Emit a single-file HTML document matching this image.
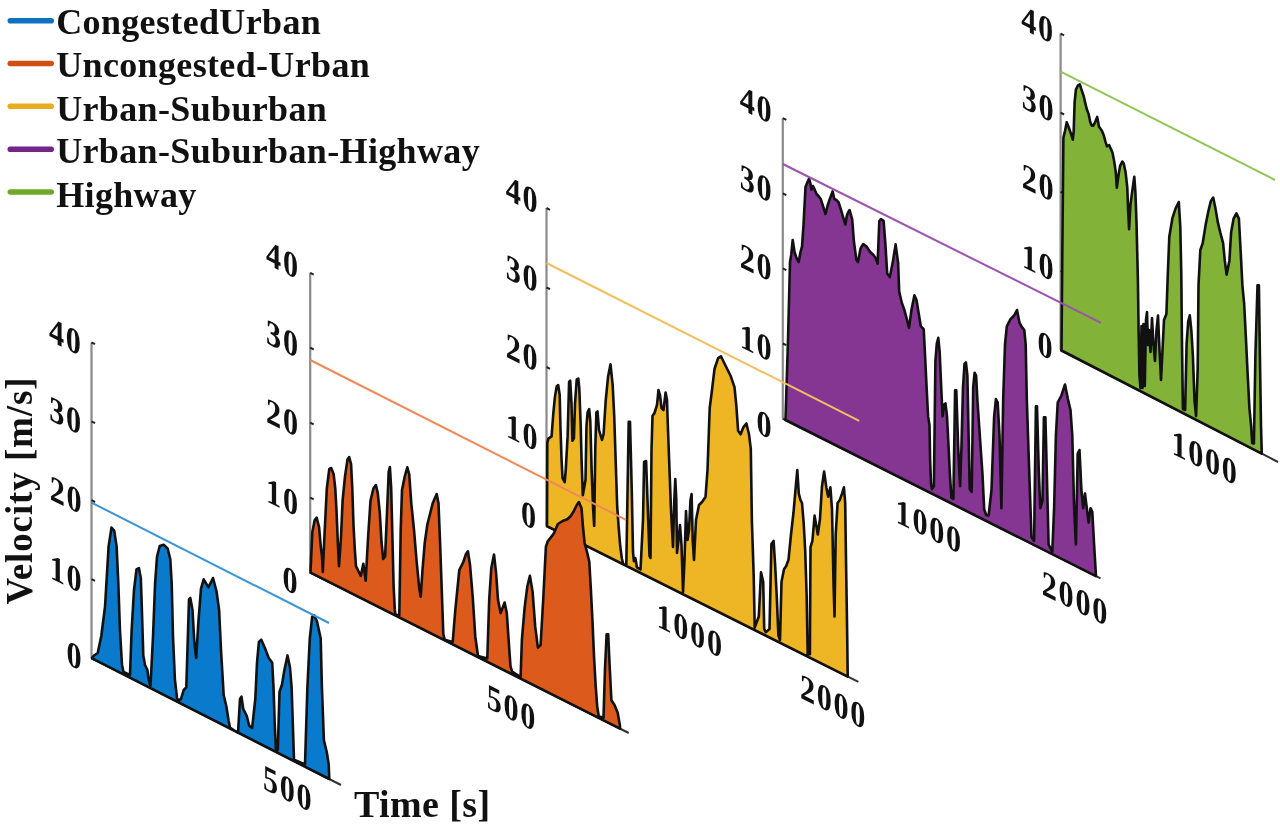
<!DOCTYPE html>
<html><head><meta charset="utf-8"><style>
html,body{margin:0;padding:0;background:#fff;width:1280px;height:825px;overflow:hidden}
svg{display:block;filter:blur(0.45px)}
text{font-family:"Liberation Serif",serif;fill:#111}
.tk{font-weight:bold}
</style></head><body>
<svg width="1280" height="825" viewBox="0 0 1280 825">
<g id="P5"><line x1="1060.6" y1="33.6" x2="1060.6" y2="350" stroke="#8a8a8a" stroke-width="2.2"/>
<line x1="1060.6" y1="350.0" x2="1064.1" y2="351.8" stroke="#222" stroke-width="2"/>
<line x1="1060.6" y1="270.9" x2="1064.1" y2="272.6" stroke="#222" stroke-width="2"/>
<line x1="1060.6" y1="191.8" x2="1064.1" y2="193.6" stroke="#222" stroke-width="2"/>
<line x1="1060.6" y1="112.7" x2="1064.1" y2="114.5" stroke="#222" stroke-width="2"/>
<line x1="1060.6" y1="33.6" x2="1064.1" y2="35.4" stroke="#222" stroke-width="2"/>
<line x1="1060.6" y1="350" x2="1278" y2="462" stroke="#333" stroke-width="2"/>
<polygon points="1061.5,350.0 1062.4,244.4 1063.4,137.6 1065.0,131.0 1066.7,122.3 1068.5,126.7 1070.0,131.0 1071.5,135.4 1072.8,139.7 1073.7,131.0 1074.6,102.7 1075.9,89.6 1078.0,85.3 1079.8,84.3 1081.5,89.6 1083.7,96.2 1085.2,102.7 1086.8,109.2 1088.5,113.6 1090.3,122.3 1091.8,125.6 1093.3,125.6 1095.1,122.3 1097.2,116.9 1099.0,126.7 1100.5,128.8 1102.0,131.0 1103.8,135.4 1105.5,141.9 1107.0,146.3 1109.2,145.2 1110.7,148.5 1112.5,152.8 1114.2,161.5 1115.8,172.4 1116.8,187.7 1118.6,174.6 1120.1,165.9 1122.3,161.5 1123.8,163.7 1125.6,172.4 1127.3,187.7 1128.2,211.7 1129.1,229.1 1130.4,205.1 1132.1,192.1 1134.3,176.8 1135.4,192.1 1136.5,222.6 1137.9,280.0 1138.6,330.0 1139.4,375.0 1140.5,388.0 1141.5,326.0 1142.5,388.0 1143.5,324.0 1144.8,386.0 1146.0,320.0 1147.0,312.0 1148.0,345.0 1149.0,330.0 1150.5,352.0 1152.0,318.0 1153.5,345.0 1155.0,361.0 1156.5,330.0 1158.0,315.6 1159.5,350.0 1161.0,380.0 1162.5,350.0 1164.0,320.0 1166.4,314.0 1167.8,274.4 1169.3,236.6 1172.5,217.8 1175.6,208.3 1178.8,202.0 1180.3,227.2 1181.3,274.4 1181.9,337.3 1182.9,409.0 1185.1,410.0 1186.6,343.6 1188.2,321.6 1189.8,315.3 1191.4,331.0 1192.9,356.2 1194.5,400.3 1196.1,416.0 1197.7,368.8 1198.5,285.3 1200.3,250.2 1202.7,243.2 1205.5,225.6 1208.3,211.6 1210.8,201.1 1213.2,197.5 1215.4,208.1 1217.8,222.1 1220.3,232.6 1223.1,243.2 1224.8,260.7 1226.6,274.7 1229.4,260.7 1231.1,232.6 1233.6,218.6 1236.4,213.3 1238.9,218.6 1240.6,250.2 1242.4,285.3 1244.1,302.8 1245.9,337.9 1247.6,373.0 1249.4,408.1 1251.1,425.6 1252.2,443.2 1253.9,443.5 1255.4,355.4 1257.5,285.3 1258.9,285.3 1259.9,355.4 1261.0,425.6 1261.7,450.2 1261.7,453.6 1061.5,350.5" fill="#82b237" stroke="#111" stroke-width="2.6" stroke-linejoin="round"/>
<line x1="1060.6" y1="71.7" x2="1275" y2="180" stroke="#93c45a" stroke-width="2"/>
<text transform="matrix(0.84,0.420,0,1,1054.8,45.2)" text-anchor="end" font-size="36" letter-spacing="2" class="tk">40</text>
<text transform="matrix(0.84,0.420,0,1,1055.3,124.1)" text-anchor="end" font-size="36" letter-spacing="2" class="tk">30</text>
<text transform="matrix(0.84,0.420,0,1,1055.3,203.5)" text-anchor="end" font-size="36" letter-spacing="2" class="tk">20</text>
<text transform="matrix(0.84,0.420,0,1,1055.3,283.0)" text-anchor="end" font-size="36" letter-spacing="2" class="tk">10</text>
<text transform="matrix(0.84,0.420,0,1,1054.3,361.8)" text-anchor="end" font-size="36" letter-spacing="2" class="tk">0</text>
<text transform="matrix(0.84,0.420,0,1,1238.6,486.9)" text-anchor="end" font-size="36" letter-spacing="2" class="tk">1000</text></g>
<g id="P4"><line x1="782.8" y1="118.2" x2="782.8" y2="418.6" stroke="#8a8a8a" stroke-width="2.2"/>
<line x1="782.8" y1="418.6" x2="786.3" y2="420.4" stroke="#222" stroke-width="2"/>
<line x1="782.8" y1="343.5" x2="786.3" y2="345.2" stroke="#222" stroke-width="2"/>
<line x1="782.8" y1="268.4" x2="786.3" y2="270.1" stroke="#222" stroke-width="2"/>
<line x1="782.8" y1="193.3" x2="786.3" y2="195.1" stroke="#222" stroke-width="2"/>
<line x1="782.8" y1="118.2" x2="786.3" y2="119.9" stroke="#222" stroke-width="2"/>
<line x1="782.8" y1="418.6" x2="1100.5" y2="578.4" stroke="#333" stroke-width="2"/>
<polygon points="785.5,419.8 788.0,340.0 790.0,262.0 791.2,255.0 792.7,240.0 794.5,252.0 796.5,258.0 798.7,262.0 800.5,252.0 802.0,246.6 803.5,225.0 805.5,187.0 807.5,182.0 809.0,178.7 810.3,183.0 811.4,189.7 812.8,186.0 814.0,188.0 816.5,194.0 818.5,196.0 820.7,199.0 823.0,206.0 825.5,214.0 827.5,206.0 829.2,200.7 832.6,191.4 834.3,199.0 836.5,200.0 838.6,202.4 840.7,209.0 842.8,216.0 845.4,224.5 846.8,216.0 848.0,212.6 849.6,210.0 852.2,219.4 853.9,241.5 856.4,260.0 858.0,262.0 860.6,248.3 863.2,244.0 866.6,246.6 870.0,251.7 873.4,255.0 875.6,258.0 877.6,263.6 879.3,221.0 881.0,219.0 883.6,220.8 885.4,244.4 887.2,273.5 889.8,277.1 892.7,262.6 895.6,244.4 898.1,262.6 899.2,291.6 901.7,302.5 904.3,309.7 907.2,320.6 909.0,327.9 911.5,309.7 914.4,295.2 916.5,300.0 920.8,326.2 923.7,329.1 925.2,358.2 926.6,387.3 928.1,416.4 929.5,425.1 930.1,460.0 931.0,483.3 931.9,489.1 933.9,486.2 935.4,361.1 936.8,343.6 938.3,337.8 939.7,352.4 941.2,387.3 942.6,416.4 944.1,404.7 945.5,403.3 947.0,416.4 948.5,445.5 949.9,474.5 951.4,497.8 953.4,498.8 955.1,390.2 956.3,390.2 958.1,445.5 960.1,486.2 961.5,445.5 963.0,387.3 964.5,364.0 965.9,362.5 967.4,375.6 968.8,445.5 969.7,489.1 971.7,492.0 973.2,387.3 974.6,372.7 976.1,375.6 977.5,401.8 980.5,445.5 982.5,474.5 984.2,509.5 986.3,515.3 988.6,515.5 991.5,490.0 994.1,417.3 995.9,399.1 997.7,402.7 999.5,435.5 1001.4,508.2 1003.2,399.1 1005.0,344.5 1006.8,326.4 1010.5,319.1 1014.1,315.5 1017.0,310.0 1019.5,322.7 1021.4,326.4 1024.3,330.0 1025.7,344.5 1026.8,399.1 1028.6,453.6 1030.5,508.2 1031.5,537.3 1034.1,540.9 1035.9,406.4 1037.0,406.4 1038.8,471.8 1040.3,508.2 1042.5,500.9 1043.9,417.3 1045.4,417.3 1046.8,471.8 1048.6,544.5 1052.3,551.8 1054.1,508.2 1055.9,435.5 1057.7,402.7 1061.4,395.5 1065.0,384.5 1067.9,399.1 1070.5,410.0 1072.3,435.5 1074.1,508.2 1075.9,544.5 1077.7,453.6 1079.5,450.0 1081.4,490.0 1083.2,508.2 1085.0,493.6 1086.8,508.2 1088.6,522.7 1090.5,508.2 1092.3,511.8 1094.1,544.5 1095.9,574.5 1095.9,576.1 785.5,420.0" fill="#853592" stroke="#111" stroke-width="2.6" stroke-linejoin="round"/>
<line x1="782.8" y1="164" x2="1101" y2="322.9" stroke="#9b52b0" stroke-width="2"/>
<text transform="matrix(0.84,0.420,0,1,773.4,125.5)" text-anchor="end" font-size="36" letter-spacing="2" class="tk">40</text>
<text transform="matrix(0.84,0.420,0,1,773.4,204.3)" text-anchor="end" font-size="36" letter-spacing="2" class="tk">30</text>
<text transform="matrix(0.84,0.420,0,1,773.4,283.2)" text-anchor="end" font-size="36" letter-spacing="2" class="tk">20</text>
<text transform="matrix(0.84,0.420,0,1,773.4,363.3)" text-anchor="end" font-size="36" letter-spacing="2" class="tk">10</text>
<text transform="matrix(0.84,0.420,0,1,773.4,440.9)" text-anchor="end" font-size="36" letter-spacing="2" class="tk">0</text>
<text transform="matrix(0.84,0.420,0,1,962.8,555.3)" text-anchor="end" font-size="36" letter-spacing="2" class="tk">1000</text>
<text transform="matrix(0.84,0.420,0,1,1109.0,627.5)" text-anchor="end" font-size="36" letter-spacing="2" class="tk">2000</text></g>
<g id="P3"><line x1="546.5" y1="208" x2="546.5" y2="526" stroke="#8a8a8a" stroke-width="2.2"/>
<line x1="546.5" y1="526.0" x2="550.0" y2="527.8" stroke="#222" stroke-width="2"/>
<line x1="546.5" y1="446.5" x2="550.0" y2="448.2" stroke="#222" stroke-width="2"/>
<line x1="546.5" y1="367.0" x2="550.0" y2="368.8" stroke="#222" stroke-width="2"/>
<line x1="546.5" y1="287.5" x2="550.0" y2="289.2" stroke="#222" stroke-width="2"/>
<line x1="546.5" y1="208.0" x2="550.0" y2="209.8" stroke="#222" stroke-width="2"/>
<line x1="546.5" y1="526" x2="858.4" y2="681.9" stroke="#333" stroke-width="2"/>
<polygon points="547.0,526.0 547.3,442.9 548.4,438.6 551.6,436.4 553.2,414.5 554.9,397.1 556.7,386.2 558.2,385.1 559.7,394.9 560.4,425.5 561.5,458.2 562.5,477.8 564.7,482.2 565.8,469.1 567.6,436.4 569.1,381.8 570.2,380.7 571.5,403.6 572.4,440.7 573.9,438.6 575.0,403.6 576.7,379.6 578.3,378.5 579.3,388.4 580.7,425.5 581.5,458.2 582.8,495.3 585.5,480.0 586.5,425.5 587.6,412.4 589.2,409.1 590.3,421.1 591.6,469.1 593.1,508.4 594.2,525.8 595.3,447.3 596.4,412.4 597.5,411.3 599.0,430.0 602.0,440.0 603.6,434.0 605.7,400.6 608.1,376.4 610.5,364.2 612.7,385.5 614.2,415.8 615.7,461.2 617.2,506.7 618.7,527.9 620.2,546.0 621.8,558.2 623.3,564.2 626.3,565.5 628.7,421.8 630.0,421.8 631.8,491.5 633.0,552.0 633.9,561.2 635.4,558.2 636.9,567.3 640.5,569.5 643.0,520.0 644.1,462.0 646.1,461.0 647.5,500.0 649.5,556.0 650.5,558.0 651.5,450.0 652.5,416.0 654.5,413.0 657.0,405.0 658.5,390.0 660.0,395.0 661.5,408.0 663.5,410.0 665.6,392.5 667.0,400.0 668.0,430.0 669.5,470.0 671.0,510.0 673.0,547.0 674.3,500.0 675.3,479.0 676.3,500.0 677.0,553.0 678.5,540.0 680.0,525.0 681.5,545.0 683.0,592.0 684.5,560.0 686.0,511.0 687.5,540.0 689.0,530.0 690.5,500.0 691.6,494.0 692.7,540.0 694.0,560.0 696.0,520.0 699.0,505.0 702.0,502.0 705.5,497.0 707.5,470.0 709.7,408.0 711.9,390.8 714.5,369.0 718.1,358.1 721.0,356.3 723.6,361.8 727.2,369.0 730.8,376.3 734.5,387.2 736.3,405.3 738.1,430.7 740.6,434.3 743.5,427.1 746.4,423.5 749.0,434.3 750.8,448.9 751.9,521.4 753.7,575.8 754.7,627.5 758.8,616.5 761.0,572.4 763.2,581.8 764.2,629.0 765.8,632.2 769.5,629.0 771.4,544.0 773.6,540.9 775.2,566.0 776.8,597.6 778.4,635.4 780.0,640.0 781.5,581.8 784.0,569.2 786.2,566.0 788.5,559.8 791.0,534.5 793.5,512.5 795.7,487.3 797.3,470.0 798.8,493.6 800.4,499.9 802.0,503.0 803.6,522.0 805.2,550.3 806.7,597.6 807.7,654.3 809.9,654.3 810.5,547.2 812.4,540.9 814.6,515.6 816.2,525.1 817.8,534.5 820.0,518.8 821.9,487.3 824.1,471.5 826.3,487.3 828.2,496.7 830.4,487.3 832.0,509.3 833.5,581.8 834.5,616.5 835.7,534.5 837.6,503.0 839.8,499.9 842.0,493.6 843.9,487.3 845.2,503.0 846.1,566.0 847.1,629.0 847.7,674.8 847.7,676.6 547.0,526.2" fill="#eeb524" stroke="#111" stroke-width="2.6" stroke-linejoin="round"/>
<line x1="546.5" y1="263" x2="859.2" y2="420.8" stroke="#f0c060" stroke-width="2"/>
<text transform="matrix(0.84,0.420,0,1,539.3,215.6)" text-anchor="end" font-size="36" letter-spacing="2" class="tk">40</text>
<text transform="matrix(0.84,0.420,0,1,539.3,294.5)" text-anchor="end" font-size="36" letter-spacing="2" class="tk">30</text>
<text transform="matrix(0.84,0.420,0,1,539.3,373.4)" text-anchor="end" font-size="36" letter-spacing="2" class="tk">20</text>
<text transform="matrix(0.84,0.420,0,1,539.3,452.8)" text-anchor="end" font-size="36" letter-spacing="2" class="tk">10</text>
<text transform="matrix(0.84,0.420,0,1,537.8,531.7)" text-anchor="end" font-size="36" letter-spacing="2" class="tk">0</text>
<text transform="matrix(0.84,0.420,0,1,723.7,659.7)" text-anchor="end" font-size="36" letter-spacing="2" class="tk">1000</text>
<text transform="matrix(0.84,0.420,0,1,867.1,731.0)" text-anchor="end" font-size="36" letter-spacing="2" class="tk">2000</text></g>
<g id="P2"><line x1="310.2" y1="272.8" x2="310.2" y2="572.5" stroke="#8a8a8a" stroke-width="2.2"/>
<line x1="310.2" y1="572.5" x2="313.7" y2="574.2" stroke="#222" stroke-width="2"/>
<line x1="310.2" y1="497.6" x2="313.7" y2="499.3" stroke="#222" stroke-width="2"/>
<line x1="310.2" y1="422.6" x2="313.7" y2="424.4" stroke="#222" stroke-width="2"/>
<line x1="310.2" y1="347.7" x2="313.7" y2="349.5" stroke="#222" stroke-width="2"/>
<line x1="310.2" y1="272.8" x2="313.7" y2="274.6" stroke="#222" stroke-width="2"/>
<line x1="310.2" y1="572.5" x2="628.7" y2="733" stroke="#333" stroke-width="2"/>
<polygon points="310.5,572.3 312.3,532.2 314.7,520.1 316.7,517.7 319.1,527.4 320.8,546.8 322.0,556.5 322.8,572.0 324.4,537.0 326.8,488.5 329.3,469.0 331.2,468.0 333.6,474.0 335.3,488.5 336.6,512.8 337.8,542.0 339.0,566.2 341.0,537.0 342.6,500.7 345.0,476.4 347.5,459.4 349.2,457.0 351.1,464.3 352.3,488.5 353.5,525.0 354.8,549.2 356.0,566.2 358.4,571.0 360.8,576.0 363.3,563.8 365.7,580.8 368.1,537.0 370.5,500.7 373.4,488.5 375.9,485.0 377.8,493.4 379.8,512.8 381.5,542.0 383.2,559.0 385.1,556.5 387.0,512.8 388.7,471.6 389.9,467.0 391.2,488.5 392.4,537.0 393.6,585.6 394.8,609.9 395.5,614.8 399.3,615.3 400.7,530.0 402.0,490.0 404.7,476.7 407.3,467.3 409.2,474.0 411.3,503.3 414.0,530.0 416.7,562.0 419.3,588.7 420.7,596.7 422.5,570.0 424.7,543.3 427.3,524.7 430.0,514.0 432.7,503.3 436.7,494.0 438.5,503.3 440.1,543.3 442.0,596.7 443.3,634.0 444.7,639.7 452.7,642.0 455.3,610.0 459.3,570.0 463.3,562.0 466.0,554.0 467.9,551.3 470.0,564.7 472.7,596.7 475.3,636.7 478.0,656.0 487.3,658.4 489.2,599.8 491.3,567.9 494.0,554.5 496.1,573.2 498.0,599.8 500.6,613.1 504.6,602.5 506.8,613.1 508.6,639.7 510.5,666.4 512.1,671.7 520.6,677.0 521.9,639.7 524.6,607.8 527.3,586.5 529.9,575.8 532.6,591.8 535.2,626.4 537.9,647.7 540.6,645.0 543.2,599.8 545.9,546.6 547.8,541.2 549.9,538.6 552.0,535.9 553.9,533.2 557.9,524.0 562.6,521.0 567.3,519.3 570.5,516.2 573.6,511.5 576.7,505.2 578.9,502.0 581.5,508.3 583.0,527.2 584.6,543.0 587.1,552.4 589.3,561.8 590.9,590.1 592.5,621.6 594.0,656.2 595.6,684.5 597.2,706.6 598.8,716.5 603.5,717.6 605.0,668.8 606.6,634.2 608.2,634.2 609.8,668.8 611.4,700.3 614.5,705.0 617.7,712.8 620.0,726.0 620.0,728.6 310.5,572.7" fill="#dc5a1c" stroke="#111" stroke-width="2.6" stroke-linejoin="round"/>
<line x1="310.2" y1="360" x2="626" y2="519.9" stroke="#ee8a5a" stroke-width="2"/>
<text transform="matrix(0.84,0.420,0,1,299.7,280.6)" text-anchor="end" font-size="36" letter-spacing="2" class="tk">40</text>
<text transform="matrix(0.84,0.420,0,1,299.7,359.5)" text-anchor="end" font-size="36" letter-spacing="2" class="tk">30</text>
<text transform="matrix(0.84,0.420,0,1,299.7,438.4)" text-anchor="end" font-size="36" letter-spacing="2" class="tk">20</text>
<text transform="matrix(0.84,0.420,0,1,299.7,517.9)" text-anchor="end" font-size="36" letter-spacing="2" class="tk">10</text>
<text transform="matrix(0.84,0.420,0,1,299.2,596.8)" text-anchor="end" font-size="36" letter-spacing="2" class="tk">0</text>
<text transform="matrix(0.84,0.420,0,1,537.1,732.7)" text-anchor="end" font-size="36" letter-spacing="2" class="tk">500</text></g>
<g id="P1"><line x1="91.5" y1="342.5" x2="91.5" y2="658" stroke="#8a8a8a" stroke-width="2.2"/>
<line x1="91.5" y1="658.0" x2="95.0" y2="659.8" stroke="#222" stroke-width="2"/>
<line x1="91.5" y1="579.1" x2="95.0" y2="580.9" stroke="#222" stroke-width="2"/>
<line x1="91.5" y1="500.2" x2="95.0" y2="502.0" stroke="#222" stroke-width="2"/>
<line x1="91.5" y1="421.4" x2="95.0" y2="423.1" stroke="#222" stroke-width="2"/>
<line x1="91.5" y1="342.5" x2="95.0" y2="344.2" stroke="#222" stroke-width="2"/>
<line x1="91.5" y1="658" x2="341" y2="785" stroke="#333" stroke-width="2"/>
<polygon points="92.0,658.0 94.0,655.5 97.7,653.0 101.3,636.0 105.0,607.0 108.6,546.4 111.5,527.5 114.2,530.6 116.6,546.4 118.3,582.7 120.0,631.0 122.0,665.0 123.5,672.0 130.0,675.0 131.6,631.0 134.0,590.0 136.5,569.4 138.9,568.0 140.8,578.0 141.8,607.0 143.3,655.5 145.0,665.0 147.4,670.0 148.6,679.7 150.5,686.0 153.0,636.7 155.1,583.3 157.0,556.7 159.7,546.0 163.7,544.7 167.7,548.7 170.3,559.3 171.7,583.3 173.0,636.7 174.9,679.3 177.0,698.0 178.3,700.5 181.0,699.0 183.7,690.0 186.3,687.3 189.0,599.3 190.3,598.0 192.5,610.0 194.3,642.0 196.2,658.0 198.3,623.3 201.0,588.7 203.7,579.3 208.5,587.3 213.0,578.0 216.5,591.3 219.1,610.0 221.0,650.0 223.7,695.3 226.3,706.0 228.6,720.8 230.0,727.5 238.0,733.0 240.0,699.0 241.5,696.6 243.2,708.7 246.8,716.0 249.2,725.7 252.1,728.1 255.3,699.0 257.0,662.7 258.9,642.0 261.3,639.7 265.0,648.2 268.6,657.8 272.2,662.7 273.5,687.0 274.7,723.3 275.9,749.0 277.8,750.0 279.5,691.8 282.0,684.5 284.4,670.0 287.5,655.4 290.0,667.5 291.6,687.0 292.8,723.3 294.0,759.6 305.0,764.5 307.4,687.0 309.8,638.5 312.2,616.7 314.2,615.4 317.0,621.5 320.7,638.5 321.9,687.0 323.9,740.2 326.8,752.3 328.7,764.5 329.2,776.6 329.2,779.0 92.0,658.3" fill="#0a7bcc" stroke="#111" stroke-width="2.6" stroke-linejoin="round"/>
<line x1="91.5" y1="502.6" x2="329" y2="623" stroke="#3a95d8" stroke-width="2"/>
<text transform="matrix(0.84,0.420,0,1,82.5,357.2)" text-anchor="end" font-size="36" letter-spacing="2" class="tk">40</text>
<text transform="matrix(0.84,0.420,0,1,82.8,436.4)" text-anchor="end" font-size="36" letter-spacing="2" class="tk">30</text>
<text transform="matrix(0.84,0.420,0,1,83.4,515.7)" text-anchor="end" font-size="36" letter-spacing="2" class="tk">20</text>
<text transform="matrix(0.84,0.420,0,1,83.4,594.6)" text-anchor="end" font-size="36" letter-spacing="2" class="tk">10</text>
<text transform="matrix(0.84,0.420,0,1,83.4,672.2)" text-anchor="end" font-size="36" letter-spacing="2" class="tk">0</text>
<text transform="matrix(0.84,0.420,0,1,313.4,813.7)" text-anchor="end" font-size="36" letter-spacing="2" class="tk">500</text></g>
<line x1="10.3" y1="20.8" x2="51.2" y2="20.8" stroke="#0f72bc" stroke-width="5.6" stroke-linecap="round"/>
<text x="56.2" y="33.6" font-size="36" font-weight="bold" letter-spacing="0.35">CongestedUrban</text>
<line x1="10.3" y1="63.5" x2="51.2" y2="63.5" stroke="#cf4e14" stroke-width="5.6" stroke-linecap="round"/>
<text x="56.2" y="77.3" font-size="36" font-weight="bold" letter-spacing="0.35">Uncongested-Urban</text>
<line x1="10.3" y1="106.3" x2="51.2" y2="106.3" stroke="#e8ad1e" stroke-width="5.6" stroke-linecap="round"/>
<text x="56.2" y="120.7" font-size="36" font-weight="bold" letter-spacing="0.35">Urban-Suburban</text>
<line x1="10.3" y1="149.3" x2="51.2" y2="149.3" stroke="#74258a" stroke-width="5.6" stroke-linecap="round"/>
<text x="56.2" y="163.2" font-size="36" font-weight="bold" letter-spacing="0.35">Urban-Suburban-Highway</text>
<line x1="10.3" y1="192" x2="51.2" y2="192" stroke="#70a82c" stroke-width="5.6" stroke-linecap="round"/>
<text x="56.2" y="206.5" font-size="36" font-weight="bold" letter-spacing="0.35">Highway</text>
<text transform="translate(31.8,490.5) rotate(-90)" text-anchor="middle" font-size="37" font-weight="bold" letter-spacing="0.9">Velocity [m/s]</text>
<text x="354" y="816.5" font-size="38" font-weight="bold" letter-spacing="0.4">Time [s]</text>
</svg></body></html>
